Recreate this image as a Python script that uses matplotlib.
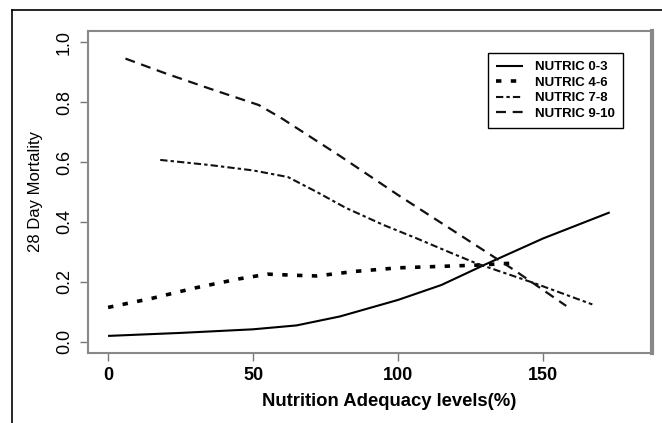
from matplotlib import pyplot as plt
from matplotlib.lines import Line2D
import numpy as np

# values
x_03 = [0, 25, 50, 65, 80, 100, 115, 130, 150, 173]
y_03 = [0.02, 0.03, 0.042, 0.055, 0.085, 0.14, 0.19, 0.258, 0.345, 0.432]

x_46 = [0, 15, 30, 45, 55, 65, 72, 85, 100, 115, 127, 140]
y_46 = [0.115, 0.145, 0.18, 0.21, 0.226, 0.222, 0.22, 0.235, 0.247, 0.252, 0.256, 0.263]

x_78 = [18, 35, 50, 62, 72, 82, 95, 106, 117, 127, 147, 167]
y_78 = [0.607, 0.59, 0.572, 0.55, 0.50, 0.447, 0.39, 0.347, 0.302, 0.262, 0.196, 0.125]

x_910 = [6, 20, 35, 52, 60, 80, 100, 120, 140, 158]
y_910 = [0.945, 0.895, 0.845, 0.79, 0.745, 0.62, 0.49, 0.365, 0.24, 0.12]

labels = ["NUTRIC 0-3", "NUTRIC 4-6", "NUTRIC 7-8", "NUTRIC 9-10"]
x_ticks = [0, 50, 100, 150]
y_ticks = [0.0, 0.2, 0.4, 0.6, 0.8, 1.0]

plt.rcParams['font.family'] = ['Liberation Sans', 'DejaVu Sans']

fig = plt.figure(figsize=(6.62, 4.23), dpi=100)
ax = fig.add_axes([0.133, 0.1655, 0.852, 0.7612])

ax.plot(x_03, y_03, color='black', lw=1.5, solid_capstyle='butt', label=labels[0])
ax.plot(x_46, y_46, color='black', lw=2.6, linestyle=(0, (1.5, 2.6)),
        dash_capstyle='butt', label=labels[1])
ax.plot(x_78, y_78, color='#111111', lw=1.5, linestyle=(0, (3.5, 1.5, 1.6, 1.5)),
        label=labels[2])
ax.plot(x_910, y_910, color='#111111', lw=1.6, linestyle=(0, (4.5, 3)), label=labels[3])

ax.set_xlim(-6.9, 187.6)
ax.set_ylim(-0.037, 1.037)
ax.set_xticks(x_ticks)
ax.set_yticks(y_ticks)
ax.set_xticklabels([str(v) for v in x_ticks], fontsize=13, fontweight='bold')
ax.set_yticklabels(["%.1f" % v for v in y_ticks], fontsize=13, rotation=90, va='center')
ax.tick_params(axis='both', direction='out', length=6, width=1, color='#777777')
ax.tick_params(axis='x', pad=4)
ax.tick_params(axis='y', pad=5)

for s in ax.spines.values():
    s.set_color('#888888')
    s.set_linewidth(1.5)
ax.spines['right'].set_linewidth(3)

ax.set_xlabel("Nutrition Adequacy levels(%)", fontsize=13.3, fontweight='bold')
ax.xaxis.set_label_coords(0.5346, -0.125)
ax.set_ylabel("28 Day Mortality", fontsize=12, labelpad=9)

leg = ax.legend(loc='upper right', bbox_to_anchor=(0.9486, 0.9317), borderaxespad=0,
                fancybox=False, edgecolor='black', framealpha=1,
                prop={'weight': 'bold', 'size': 9.5}, handlelength=2.0,
                labelspacing=0.25, borderpad=0.6, handletextpad=0.95)
leg.get_frame().set_linewidth(1.0)

# outer frame of the figure panel (left and top edges)
fig.add_artist(Line2D([12 / 662, 12 / 662], [0, 1 - 10 / 423], color='black', lw=1.2))
fig.add_artist(Line2D([12 / 662, 1], [1 - 10 / 423, 1 - 10 / 423], color='black', lw=1.2))

plt.savefig("out.png", dpi=100)
